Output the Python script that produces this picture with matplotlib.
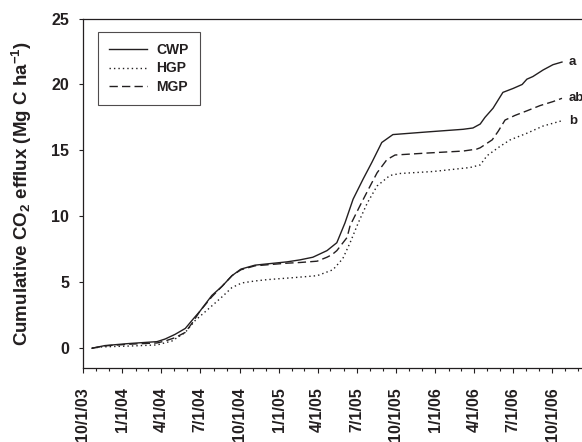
import datetime as dt
import matplotlib
matplotlib.use("Agg")
import matplotlib.pyplot as plt
import matplotlib.dates as mdates
from matplotlib.ticker import FuncFormatter

# ------------------------------------------------------------
# DATA
# ------------------------------------------------------------
cwp_dates = ["2003-10-22", "2003-11-21", "2004-01-14", "2004-03-22", "2004-04-10",
             "2004-05-03", "2004-05-27", "2004-06-14", "2004-06-30", "2004-07-28",
             "2004-08-21", "2004-09-13", "2004-10-04", "2004-11-06", "2005-01-20",
             "2005-02-19", "2005-03-21", "2005-04-23", "2005-05-16", "2005-06-04",
             "2005-06-23", "2005-07-16", "2005-08-06", "2005-08-29", "2005-09-24",
             "2005-12-13", "2006-03-07", "2006-03-30", "2006-04-16", "2006-04-27",
             "2006-05-16", "2006-06-08", "2006-07-02", "2006-07-23", "2006-08-03",
             "2006-08-17", "2006-09-10", "2006-10-03", "2006-10-24"]
cwp_values = [0.0, 0.2, 0.35, 0.5, 0.7,
              1.05, 1.5, 2.2, 2.8, 4.0,
              4.7, 5.5, 6.0, 6.3, 6.55,
              6.7, 6.9, 7.4, 8.0, 9.5,
              11.3, 12.8, 14.1, 15.6, 16.2,
              16.4, 16.6, 16.7, 17.0, 17.5,
              18.2, 19.4, 19.7, 20.0, 20.4,
              20.6, 21.1, 21.5, 21.7]

hgp_dates = ["2003-10-22", "2003-11-14", "2004-01-30", "2004-03-22", "2004-04-26",
             "2004-05-27", "2004-06-19", "2004-07-19", "2004-08-21", "2004-09-13",
             "2004-10-06", "2004-11-06", "2004-12-04", "2005-02-03", "2005-03-31",
             "2005-05-07", "2005-05-30", "2005-06-16", "2005-07-05", "2005-07-26",
             "2005-08-18", "2005-09-17", "2005-10-11", "2005-12-27", "2006-03-23",
             "2006-04-16", "2006-05-02", "2006-06-01", "2006-06-25", "2006-08-03",
             "2006-09-10", "2006-10-24"]
hgp_values = [0.0, 0.1, 0.18, 0.25, 0.55,
              1.2, 2.1, 2.95, 3.9, 4.6,
              4.95, 5.1, 5.2, 5.35, 5.5,
              5.95, 6.8, 8.0, 9.5, 11.0,
              12.3, 13.1, 13.25, 13.4, 13.7,
              13.9, 14.6, 15.3, 15.8, 16.3,
              16.85, 17.25]

mgp_dates = ["2003-10-22", "2003-11-21", "2004-01-14", "2004-03-22", "2004-04-10",
             "2004-05-03", "2004-05-27", "2004-06-14", "2004-06-30", "2004-07-28",
             "2004-08-21", "2004-09-13", "2004-10-04", "2004-11-06", "2005-01-20",
             "2005-02-19", "2005-03-31", "2005-04-23", "2005-05-05", "2005-05-16",
             "2005-05-28", "2005-06-09", "2005-06-16", "2005-07-09", "2005-07-28",
             "2005-08-18", "2005-09-10", "2005-09-29", "2005-12-13", "2006-03-07",
             "2006-04-08", "2006-04-16", "2006-05-14", "2006-05-28", "2006-06-13",
             "2006-07-06", "2006-08-03", "2006-09-03", "2006-10-03", "2006-10-24"]
mgp_values = [0.0, 0.18, 0.3, 0.4, 0.55,
              0.8, 1.2, 2.0, 2.8, 3.9,
              4.7, 5.5, 5.95, 6.25, 6.45,
              6.5, 6.6, 6.9, 7.1, 7.4,
              7.9, 8.4, 9.3, 10.8, 12.0,
              13.3, 14.3, 14.65, 14.8, 14.95,
              15.1, 15.2, 15.8, 16.45, 17.3,
              17.65, 18.0, 18.4, 18.7, 18.95]

series_names = ["CWP", "HGP", "MGP"]
end_letters = ["a", "b", "ab"]

# ------------------------------------------------------------
# STYLE
# ------------------------------------------------------------
INK = "#231f20"
plt.rcParams["font.family"] = ["Liberation Sans", "DejaVu Sans"]
plt.rcParams["font.weight"] = "bold"
plt.rcParams["mathtext.fontset"] = "custom"
plt.rcParams["mathtext.rm"] = "Liberation Sans:bold"
plt.rcParams["mathtext.bf"] = "Liberation Sans:bold"
plt.rcParams["mathtext.default"] = "bf"


def to_dates(strings):
    return [dt.datetime.strptime(s, "%Y-%m-%d") for s in strings]


fig = plt.figure(figsize=(5.82, 4.42), dpi=100)
# axes runs past the right edge of the picture (original was cropped)
ax = fig.add_axes([0.1426, 0.1674, 0.8730, 0.7907])

styles = ["-", (0, (1, 2.2)), (0, (6, 3))]
all_dates = [cwp_dates, hgp_dates, mgp_dates]
all_values = [cwp_values, hgp_values, mgp_values]

for name, ds, vs, ls, letter in zip(series_names, all_dates, all_values, styles, end_letters):
    d = to_dates(ds)
    ax.plot(d, vs, color=INK, linestyle=ls, linewidth=1.0, label=name)
    ax.annotate(letter, xy=(d[-1], vs[-1]), xytext=(5, 0), textcoords="offset points",
                ha="left", va="center", fontsize=9.5, fontweight="bold", color=INK)

ax.set_xlim(dt.datetime(2003, 10, 1), dt.datetime(2006, 12, 31))
ax.set_ylim(-1.5, 25)
ax.set_yticks([0, 5, 10, 15, 20, 25])

ax.xaxis.set_major_locator(mdates.MonthLocator(bymonth=[1, 4, 7, 10]))
ax.xaxis.set_minor_locator(mdates.MonthLocator())
ax.xaxis.set_major_formatter(FuncFormatter(
    lambda x, pos: (lambda d: f"{d.month}/{d.day}/{d.year % 100:02d}")(mdates.num2date(x))))

ax.tick_params(axis="x", which="major", direction="out", length=3.6, width=0.8,
               labelsize=11.5, pad=10, colors=INK, labelrotation=90)
ax.tick_params(axis="x", which="minor", direction="out", length=2.2, width=0.8, colors=INK)
ax.tick_params(axis="y", which="major", direction="out", length=3.2, width=0.8,
               labelsize=11.5, pad=6.8, colors=INK)
for lab in ax.get_xticklabels() + ax.get_yticklabels():
    lab.set_fontweight("bold")

for sp in ax.spines.values():
    sp.set_color(INK)
    sp.set_linewidth(0.9)

ax.set_ylabel("Cumulative CO$_2$ efflux (Mg C ha$^{-1}$)", fontsize=13.5,
              fontweight="bold", color=INK, labelpad=12)

leg = ax.legend(loc="upper left", bbox_to_anchor=(0.0295, 0.961), borderaxespad=0,
                frameon=True, fancybox=False, handlelength=2.7,
                handletextpad=0.7, borderpad=0.8, labelspacing=0.3,
                prop={"weight": "bold", "size": 10})
leg.get_frame().set_edgecolor(INK)
leg.get_frame().set_linewidth(0.8)
for t in leg.get_texts():
    t.set_color(INK)

fig.savefig("out.png", dpi=100)
